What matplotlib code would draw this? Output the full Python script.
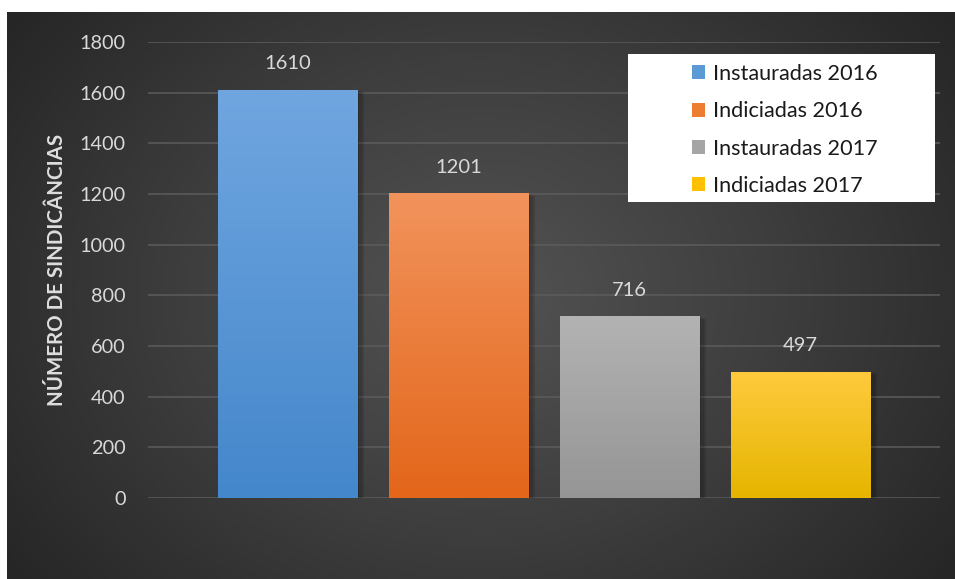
import numpy as np
import matplotlib
matplotlib.use("Agg")
from matplotlib import pyplot as plt
from matplotlib.patches import Rectangle
from matplotlib.colors import LinearSegmentedColormap

# data
series = ["Instauradas 2016", "Indiciadas 2016", "Instauradas 2017", "Indiciadas 2017"]
values = [1610, 1201, 716, 497]
yticks = [0, 200, 400, 600, 800, 1000, 1200, 1400, 1600, 1800]
ylabel = "NÚMERO DE SINDICÂNCIAS"

# gradient colours (top, bottom) for each bar
bar_colors = [("#70a6e0", "#4487cb"), ("#f2935c", "#e3661a"),
              ("#b3b3b3", "#959595"), ("#ffca3d", "#e5b500")]
legend_colors = ["#5b9bd5", "#ed7d31", "#a5a5a5", "#ffc000"]

plt.rcParams["font.family"] = ["Lato", "DejaVu Sans"]

W, H = 955, 579
fig = plt.figure(figsize=(W / 100, H / 100), dpi=100)
fig.patch.set_facecolor("white")

# background with radial gradient
bg = fig.add_axes([7 / W, 0, 1 - 7 / W, 1 - 12 / H])
bg.set_axis_off()
yy, xx = np.mgrid[0:1:300j, 0:1:500j]
r = np.sqrt(((xx - 0.5) * 1.0) ** 2 + ((yy - 0.5) * 0.75) ** 2)
r = np.clip(r / 0.62, 0, 1)
bg_cmap = LinearSegmentedColormap.from_list("bg", ["#535353", "#3e3e3e", "#262626"])
bg.imshow(r, cmap=bg_cmap, aspect="auto", extent=(0, 1, 0, 1), vmin=0, vmax=1)
bg.set_xlim(0, 1)
bg.set_ylim(0, 1)

# plotting area
ax = fig.add_axes([148 / W, 81 / H, (940 - 148) / W, (498 - 42) / H])
ax.patch.set_alpha(0)
x = np.arange(len(values))
width = 0.813
bars = ax.bar(x, values, width=width, color="none", zorder=3)

for i, (b, (c_top, c_bot)) in enumerate(zip(bars, bar_colors)):
    x0, w, h = b.get_x(), b.get_width(), b.get_height()
    # soft shadow
    for k, a in enumerate([0.10, 0.10, 0.12]):
        off = (k + 1) * 0.012
        ax.add_patch(Rectangle((x0 + off * 0.6, -8 * (k + 1) / 3), w + off * 0.6, h,
                               facecolor="black", alpha=a, edgecolor="none", zorder=2))
    cmap = LinearSegmentedColormap.from_list(f"g{i}", [c_bot, c_top])
    grad = np.linspace(0, 1, 256).reshape(-1, 1)
    ax.imshow(grad, cmap=cmap, aspect="auto", origin="lower",
              extent=(x0, x0 + w, 0, h), zorder=4)
    ax.annotate(f"{values[i]}", (x[i], h), xytext=(0, 19), textcoords="offset points",
                ha="center", va="center", fontsize=14.5, color="#d9d9d9")

ax.set_xlim(-0.816, 3.816)
ax.set_ylim(0, 1800)
ax.set_yticks(yticks)
ax.set_yticklabels([str(t) for t in yticks], fontsize=14.3, color="#d9d9d9")
ax.set_xticks([])
ax.tick_params(axis="y", length=0, pad=16)
ax.grid(axis="y", color="#5c5c5c", linewidth=1.1, zorder=1)
ax.set_axisbelow(True)
for s in ax.spines.values():
    s.set_visible(False)

fig.text(57 / W, 1 - 270 / H, ylabel, rotation=90, ha="center", va="center",
         fontsize=14.8, fontweight="bold", color="#dedede")

# legend: white box with entries
fig.patches.append(Rectangle((628 / W, 1 - 202 / H), (935 - 628) / W, (202 - 54) / H,
                             transform=fig.transFigure, facecolor="white",
                             edgecolor="none", zorder=5))
handles = [Rectangle((0, 0), 1, 1, facecolor=c, edgecolor="none") for c in legend_colors]
leg = fig.legend(handles, series, loc="upper left",
                 bbox_to_anchor=(692 / W, 1 - 64 / H), frameon=False,
                 fontsize=15.6, borderaxespad=0, borderpad=0,
                 handlelength=0.62, handleheight=0.62, handletextpad=0.35,
                 labelspacing=0.8)
leg.set_zorder(6)
for t in leg.get_texts():
    t.set_color("#1a1a1a")

fig.savefig("out.png", dpi=100)
